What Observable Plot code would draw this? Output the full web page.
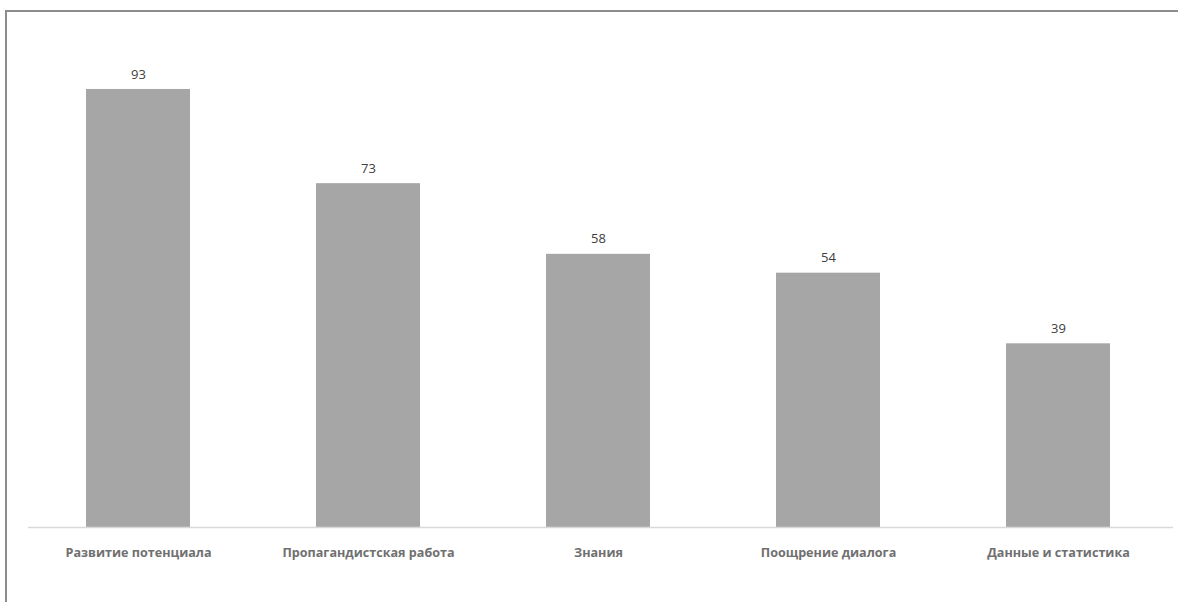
<!DOCTYPE html>
<html>
<head>
<meta charset="utf-8">
<script src="https://cdn.jsdelivr.net/npm/d3@7"></script>
<script src="https://cdn.jsdelivr.net/npm/@observablehq/plot@0.6"></script>
<style>
  html, body { margin: 0; padding: 0; background: #fff; }
  #wrap { position: relative; width: 1178px; height: 602px; overflow: hidden; }
  #frame { position: absolute; left: 5px; top: 10px; width: 1200px; height: 700px;
           border-left: 2px solid #8c8c8c; border-top: 2px solid #8c8c8c; box-sizing: border-box; }
  #chart { position: absolute; left: 0; top: 0; }
</style>
</head>
<body>
<div id="wrap"><div id="frame"></div><div id="chart"></div></div>
<script>
const categories = ["Развитие потенциала", "Пропагандистская работа", "Знания", "Поощрение диалога", "Данные и статистика"];
const values = [93, 73, 58, 54, 39];

const data = categories.map((c, i) => ({category: c, value: values[i]}));

const chart = Plot.plot({
  width: 1178,
  height: 602,
  marginLeft: 22,
  marginRight: 5,
  marginTop: 56,
  marginBottom: 75,
  style: {fontFamily: "'Open Sans', sans-serif", background: "transparent"},
  x: {domain: categories, paddingInner: 0.548, paddingOuter: 0.274, axis: null},
  y: {domain: [0, 100], axis: null},
  marks: [
    Plot.barY(data, {x: "category", y: "value", fill: "#a6a6a6"}),
    Plot.ruleY([0], {stroke: "#d9d9d9", strokeWidth: 1.5, insetLeft: 6}),
    Plot.text(data, {x: "category", y: "value", text: d => String(d.value), dy: -15,
      fill: "#404040", fontSize: 13}),
    Plot.text(data, {x: "category", y: 0, text: "category", dy: 25,
      fill: "#707070", fontSize: 12.6, fontWeight: "bold"})
  ]
});
document.getElementById("chart").appendChild(chart);
</script>
</body>
</html>
